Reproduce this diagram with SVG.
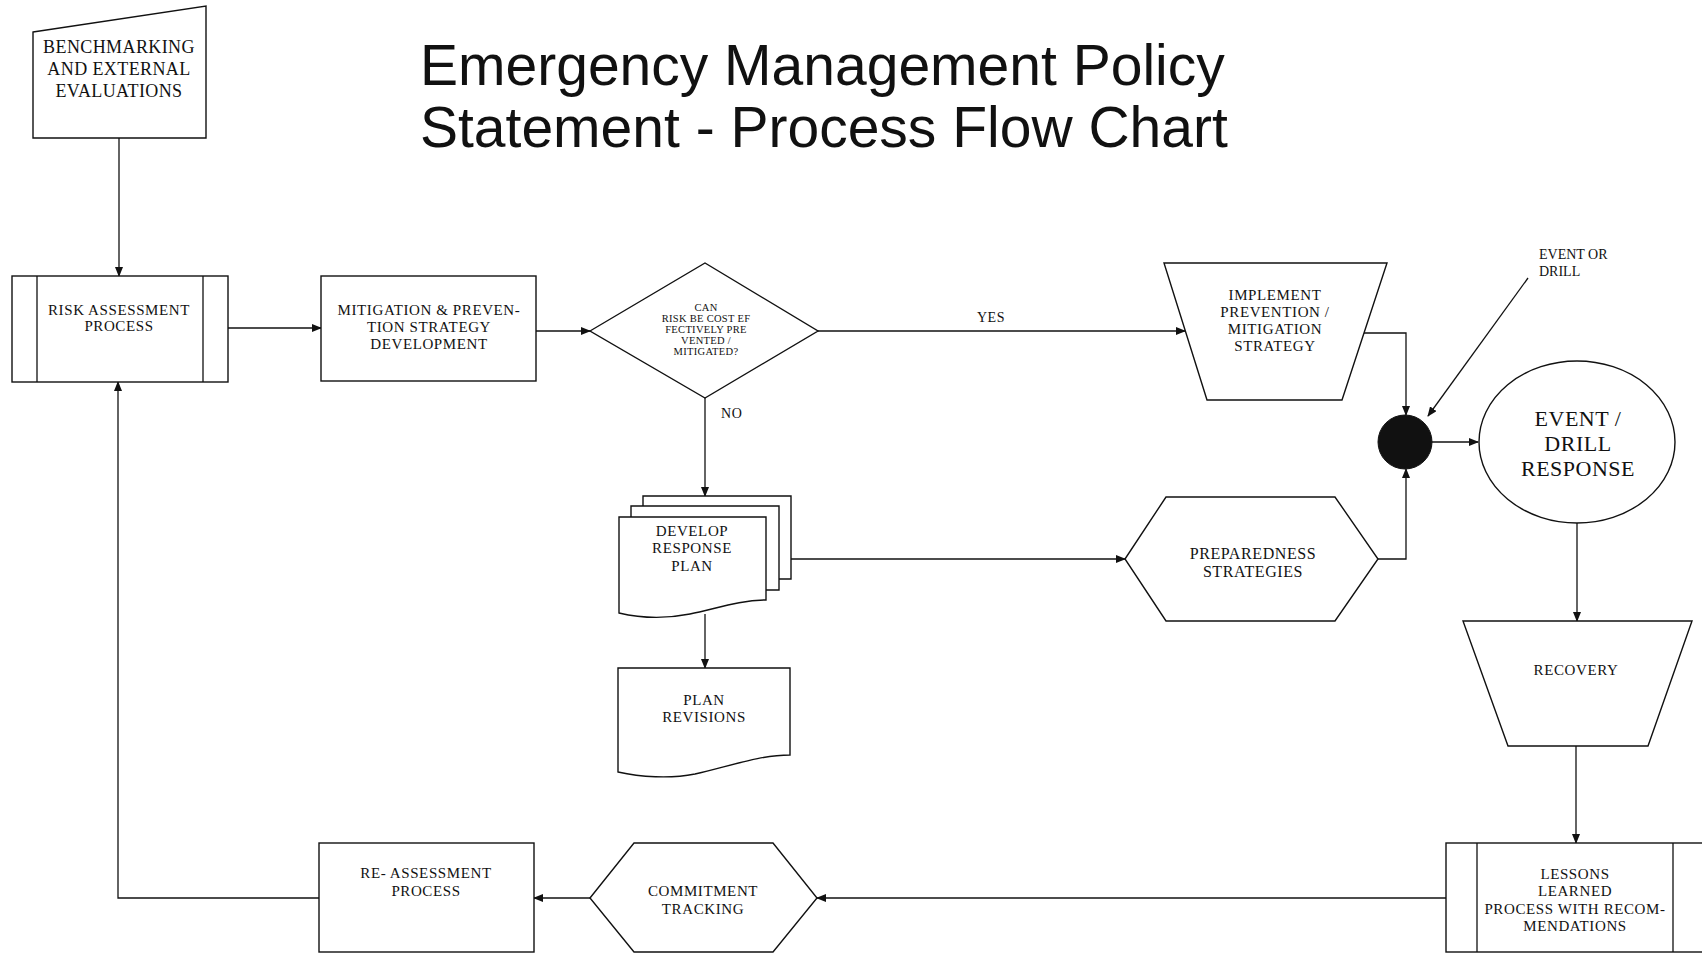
<svg xmlns="http://www.w3.org/2000/svg" width="1702" height="953" viewBox="0 0 1702 953">
<defs>
<marker id="ah" markerWidth="10" markerHeight="8" refX="9" refY="4" orient="auto" markerUnits="userSpaceOnUse">
<path d="M0,0 L10,4 L0,8 Z" fill="#111"/>
</marker>
<style>
.s{fill:#fff;stroke:#111;stroke-width:1.4}
.c{fill:none;stroke:#111;stroke-width:1.3}
.t{font-family:"Liberation Serif","Times New Roman",serif;font-size:15px;fill:#111;text-anchor:middle;letter-spacing:0.6px}
.sm{font-size:10.5px;letter-spacing:0.3px}
.lg{font-size:22px;letter-spacing:0.5px}
.ti{font-family:"Liberation Sans",Arial,sans-serif;font-size:57px;fill:#111}
</style>
</defs>
<rect width="1702" height="953" fill="#fff"/>
<g id="title">
<text class="ti" x="420" y="85">Emergency Management Policy</text>
<text class="ti" x="420" y="147">Statement - Process Flow Chart</text>
</g>
<g id="connectors">
<path class="c" d="M119,138 V276" marker-end="url(#ah)"/>
<path class="c" d="M228,328 H321" marker-end="url(#ah)"/>
<path class="c" d="M536,331 H590" marker-end="url(#ah)"/>
<path class="c" d="M818,331 H1185" marker-end="url(#ah)"/>
<path class="c" d="M705,398 V496" marker-end="url(#ah)"/>
<path class="c" d="M1364,333 H1406 V415" marker-end="url(#ah)"/>
<path class="c" d="M1528,278 L1428,416" marker-end="url(#ah)"/>
<path class="c" d="M791,559 H1125" marker-end="url(#ah)"/>
<path class="c" d="M1378,559 H1406 V469" marker-end="url(#ah)"/>
<path class="c" d="M1432,442 H1478" marker-end="url(#ah)"/>
<path class="c" d="M705,614 V668" marker-end="url(#ah)"/>
<path class="c" d="M1577,523 V621" marker-end="url(#ah)"/>
<path class="c" d="M1576,746 V843" marker-end="url(#ah)"/>
<path class="c" d="M1446,898 H817" marker-end="url(#ah)"/>
<path class="c" d="M590,898 H534" marker-end="url(#ah)"/>
<path class="c" d="M319,898 H118 V382" marker-end="url(#ah)"/>
<text class="t" x="991" y="322" style="font-size:14px">YES</text>
<text class="t" x="721" y="418" style="font-size:14px;text-anchor:start">NO</text>
</g>
<g id="benchmarking">
<path class="s" d="M33,32 L206,6 V138 H33 Z"/>
<text class="t" style="font-size:18px;letter-spacing:0.4px" x="119" y="53">BENCHMARKING</text>
<text class="t" style="font-size:18px;letter-spacing:0.4px" x="119" y="75">AND EXTERNAL</text>
<text class="t" style="font-size:18px;letter-spacing:0.4px" x="119" y="97">EVALUATIONS</text>
</g>
<g id="risk">
<rect class="s" x="12" y="276" width="216" height="106"/>
<path class="c" d="M37,276 V382 M203,276 V382"/>
<text class="t" x="119" y="315">RISK ASSESSMENT</text>
<text class="t" x="119" y="331">PROCESS</text>
</g>
<g id="mitigation">
<rect class="s" x="321" y="276" width="215" height="105"/>
<text class="t" x="429" y="315">MITIGATION &amp; PREVEN-</text>
<text class="t" x="429" y="332">TION STRATEGY</text>
<text class="t" x="429" y="349">DEVELOPMENT</text>
</g>
<g id="decision">
<path class="s" d="M590,331 L705,263 L818,331 L705,398 Z"/>
<text class="t sm" x="706" y="311">CAN</text>
<text class="t sm" x="706" y="322">RISK  BE COST EF</text>
<text class="t sm" x="706" y="333">FECTIVELY PRE</text>
<text class="t sm" x="706" y="344">VENTED /</text>
<text class="t sm" x="706" y="355">MITIGATED?</text>
</g>
<g id="implement">
<path class="s" d="M1164,263 H1387 L1342,400 H1207 Z"/>
<text class="t" x="1275" y="300">IMPLEMENT</text>
<text class="t" x="1275" y="317">PREVENTION /</text>
<text class="t" x="1275" y="334">MITIGATION</text>
<text class="t" x="1275" y="351">STRATEGY</text>
</g>
<g id="event-label">
<text class="t" style="font-size:14px;text-anchor:start;letter-spacing:0" x="1539" y="259">EVENT OR</text>
<text class="t" style="font-size:14px;text-anchor:start;letter-spacing:0" x="1539" y="276">DRILL</text>
</g>
<g id="junction">
<circle cx="1405" cy="442" r="27" fill="#111" stroke="#111"/>
</g>
<g id="event-response">
<ellipse class="s" cx="1577" cy="442" rx="98" ry="81"/>
<text class="t lg" x="1578" y="426">EVENT /</text>
<text class="t lg" x="1578" y="451">DRILL</text>
<text class="t lg" x="1578" y="476">RESPONSE</text>
</g>
<g id="develop">
<path class="s" d="M643,496 H791 V579 H643 Z"/>
<path class="s" d="M631,506 H779 V590 H631 Z"/>
<path class="s" d="M619,517 H766 V600 C740,600 715,609 690,614 C665,619 640,618 619,613 Z"/>
<text class="t" x="692" y="536">DEVELOP</text>
<text class="t" x="692" y="553">RESPONSE</text>
<text class="t" x="692" y="571">PLAN</text>
</g>
<g id="preparedness">
<path class="s" d="M1125,559 L1166,497 H1335 L1378,559 L1335,621 H1166 Z"/>
<text class="t" style="font-size:16px" x="1253" y="559">PREPAREDNESS</text>
<text class="t" style="font-size:16px" x="1253" y="577">STRATEGIES</text>
</g>
<g id="plan-revisions">
<path class="s" d="M618,668 H790 V755 C760,755 730,766 695,774 C670,779 640,777 618,772 Z"/>
<text class="t" x="704" y="705">PLAN</text>
<text class="t" x="704" y="722">REVISIONS</text>
</g>
<g id="recovery">
<path class="s" d="M1463,621 H1692 L1648,746 H1508 Z"/>
<text class="t" x="1576" y="675">RECOVERY</text>
</g>
<g id="lessons">
<rect class="s" x="1446" y="843" width="258" height="109"/>
<path class="c" d="M1477,843 V952 M1673,843 V952"/>
<text class="t" x="1575" y="879">LESSONS</text>
<text class="t" x="1575" y="896">LEARNED</text>
<text class="t" x="1575" y="914">PROCESS WITH RECOM-</text>
<text class="t" x="1575" y="931">MENDATIONS</text>
</g>
<g id="commitment">
<path class="s" d="M590,898 L634,843 H773 L817,898 L773,952 H634 Z"/>
<text class="t" x="703" y="896">COMMITMENT</text>
<text class="t" x="703" y="914">TRACKING</text>
</g>
<g id="reassessment">
<rect class="s" x="319" y="843" width="215" height="109"/>
<text class="t" x="426" y="878">RE- ASSESSMENT</text>
<text class="t" x="426" y="896">PROCESS</text>
</g>
</svg>
